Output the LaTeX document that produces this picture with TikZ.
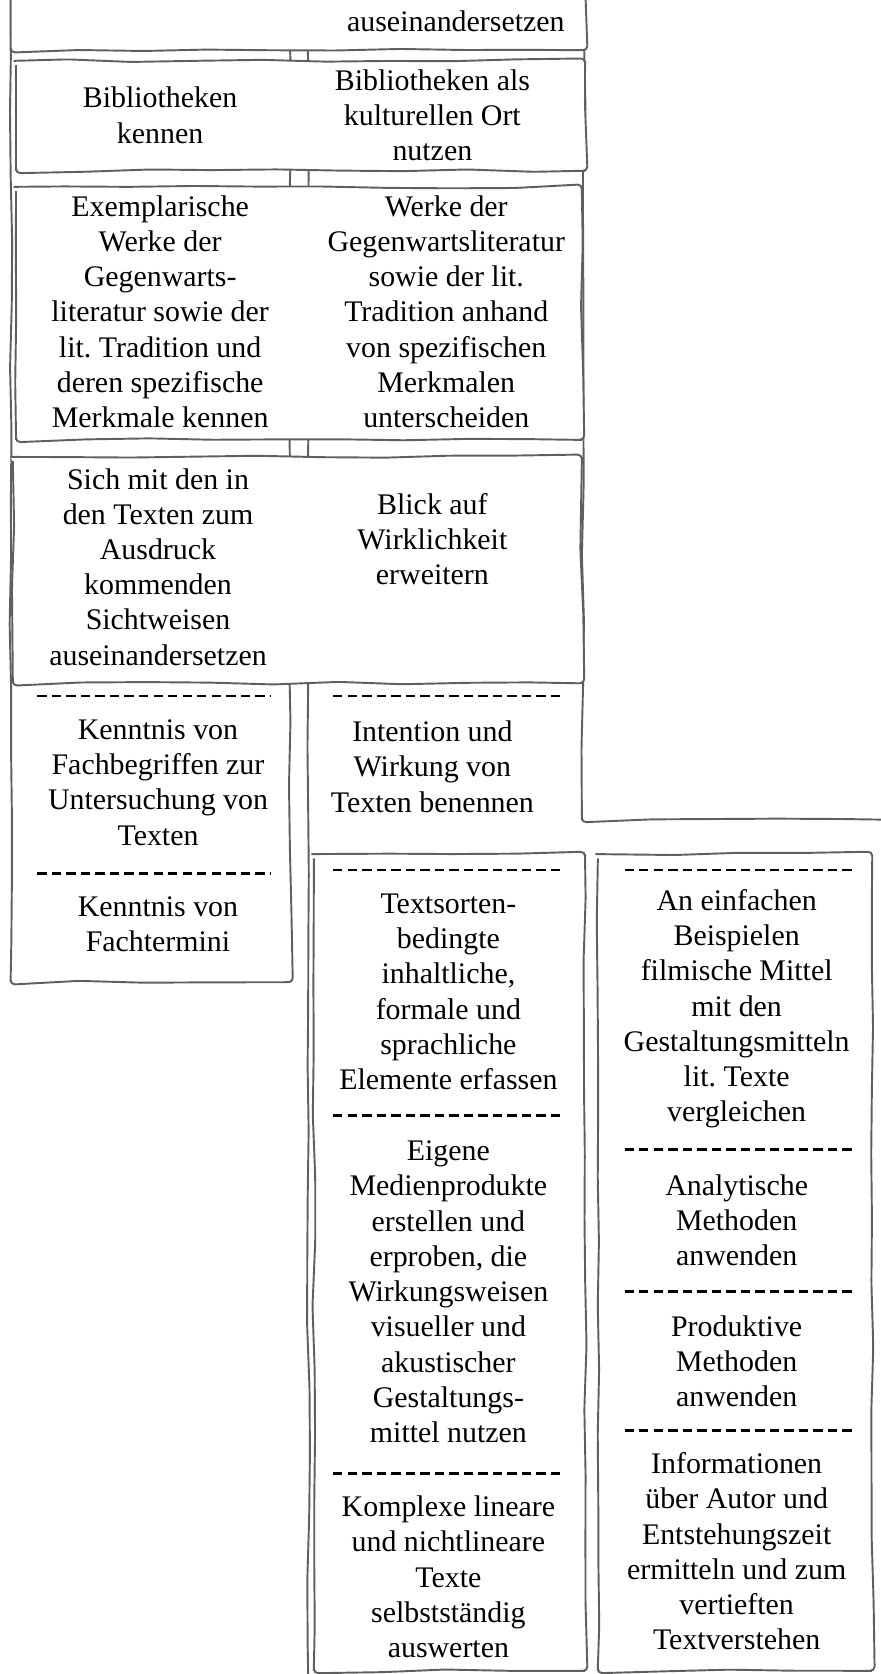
\documentclass[tikz,border=0pt]{standalone}
\usepackage{fontspec}
\setmainfont{Liberation Serif}
\usetikzlibrary{decorations.pathmorphing}
\definecolor{sketchgray}{RGB}{95,95,95}
\frenchspacing
\tikzset{
  frame/.style={draw=sketchgray, line width=0.9pt, decorate,
    decoration={random steps, segment length=30pt, amplitude=0.7pt}, rounded corners=2pt},
  rowbox/.style={frame, fill=white},
  sep/.style={black, line width=1.3pt, dash pattern=on 4.4pt off 2.4pt},
  txt/.style={align=center, font=\fontsize{14}{16.5}\selectfont, inner sep=0pt},
}

\begin{document}
\begin{tikzpicture}[x=0.5pt, y=-0.5pt]
    \useasboundingbox (0,0) rectangle (825,1568);
    \clip (0,0) rectangle (825,1568);
    \pgfmathsetseed{7}

    % column frames behind the rows
    \draw[frame] (10,-20) rectangle (272,920);
    \draw[frame] (289,-20) -- (289,1590);
    \draw[frame] (548,-20) -- (545,768) -- (845,768);

    % rows across both columns
    \draw[rowbox] (10,-20) rectangle (548,47);
    \node[txt] (rowAright) at (427,20) {auseinandersetzen};

    \draw[rowbox] (15,57) rectangle (548,160);
    \node[txt] (rowBleft) at (150,108) {Bibliotheken\\kennen};
    \node[txt] (rowBright) at (405,108) {Bibliotheken als\\kulturellen Ort\\nutzen};

    \draw[rowbox] (15,175) rectangle (545,412);
    \node[txt] (rowCleft) at (150,292) {Exemplarische\\Werke der\\Gegenwarts-\\literatur sowie der\\lit. Tradition und\\deren spezifische\\Merkmale kennen};
    \node[txt] (rowCright) at (418,292) {Werke der\\Gegenwartsliteratur\\sowie der lit.\\Tradition anhand\\von spezifischen\\Merkmalen\\unterscheiden};

    \draw[rowbox] (12,428) rectangle (545,640);
    \node[txt] (rowDleft) at (148,531) {Sich mit den in\\den Texten zum\\Ausdruck\\kommenden\\Sichtweisen\\auseinandersetzen};
    \node[txt] (rowDright) at (405,505) {Blick auf\\Wirklichkeit\\erweitern};

    % left column
    \draw[sep] (35,652) -- (253,652);
    \node[txt] (fachbegriffe) at (148,733) {Kenntnis von\\Fachbegriffen zur\\Untersuchung von\\Texten};
    \draw[sep] (35,818) -- (253,818);
    \node[txt] (fachtermini) at (148,866) {Kenntnis von\\Fachtermini};

    % middle column
    \draw[sep] (312,652) -- (525,652);
    \node[txt] (intention) at (405,718) {Intention und\\Wirkung von\\Texten benennen};

    % lower boxes
    \draw[rowbox] (294,800) rectangle (548,1565);
    \draw[sep] (312,815) -- (528,815);
    \node[txt] (textsorten) at (420,929) {Textsorten-\\bedingte\\inhaltliche,\\formale und\\sprachliche\\Elemente erfassen};
    \draw[sep] (312,1045) -- (528,1045);
    \node[txt] (medien) at (420,1210) {Eigene\\Medienprodukte\\erstellen und\\erproben, die\\Wirkungsweisen\\visueller und\\akustischer\\Gestaltungs-\\mittel nutzen};
    \draw[sep] (312,1380) -- (528,1380);
    \node[txt] (komplex) at (420,1477) {Komplexe lineare\\und nichtlineare\\Texte\\selbstständig\\auswerten};

    \draw[rowbox] (560,800) rectangle (817,1565);
    \draw[sep] (585,815) -- (800,815);
    \node[txt] (filmisch) at (690,945) {An einfachen\\Beispielen\\filmische Mittel\\mit den\\Gestaltungsmitteln\\lit. Texte\\vergleichen};
    \draw[sep] (585,1077) -- (800,1077);
    \node[txt] (analytisch) at (690,1143) {Analytische\\Methoden\\anwenden};
    \draw[sep] (585,1210) -- (800,1210);
    \node[txt] (produktiv) at (690,1275) {Produktive\\Methoden\\anwenden};
    \draw[sep] (585,1340) -- (800,1340);
    \node[txt] (autor) at (690,1453) {Informationen\\über Autor und\\Entstehungszeit\\ermitteln und zum\\vertieften\\Textverstehen};
\end{tikzpicture}
\end{document}
